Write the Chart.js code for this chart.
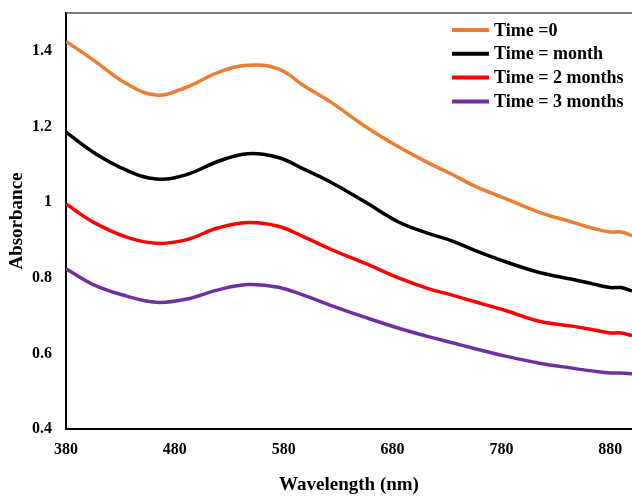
<!DOCTYPE html>
<html>
<head>
<meta charset="utf-8">
<script src="https://cdn.jsdelivr.net/npm/chart.js@4/dist/chart.umd.min.js"></script>
<style>
  html, body { margin: 0; padding: 0; background: #fff; }
  #wrap { width: 632px; height: 496px; }
</style>
</head>
<body>
<div id="wrap"><canvas id="myChart"></canvas></div>
<script>
// wavelength (nm)
const wavelength = [380, 405, 435, 463, 490, 520, 547, 575, 600, 625, 655, 685, 712, 735, 755, 785, 815, 845, 865, 880, 890, 900];

// absorbance for each storage time
const time0 = [1.425, 1.376, 1.314, 1.283, 1.303, 1.343, 1.362, 1.352, 1.305, 1.261, 1.200, 1.147, 1.105, 1.073, 1.043, 1.008, 0.973, 0.947, 0.930, 0.921, 0.921, 0.911];
const time1 = [1.185, 1.132, 1.085, 1.061, 1.072, 1.108, 1.128, 1.118, 1.085, 1.050, 1.000, 0.948, 0.918, 0.897, 0.873, 0.841, 0.814, 0.796, 0.783, 0.774, 0.774, 0.765];
const time2 = [0.995, 0.947, 0.908, 0.891, 0.900, 0.932, 0.946, 0.936, 0.906, 0.873, 0.838, 0.800, 0.772, 0.754, 0.737, 0.712, 0.685, 0.672, 0.662, 0.654, 0.654, 0.647];
const time3 = [0.824, 0.782, 0.752, 0.735, 0.743, 0.768, 0.782, 0.775, 0.752, 0.725, 0.695, 0.667, 0.645, 0.628, 0.613, 0.592, 0.574, 0.561, 0.553, 0.548, 0.548, 0.546];

const seriesNames = ["Time =0", "Time = month", "Time = 2 months", "Time = 3 months"];
const seriesColors = ["#ED7D31", "#000000", "#FF0000", "#7030A0"];

const xTicks = [380, 480, 580, 680, 780, 880];
const yTicks = [0.4, 0.6, 0.8, 1, 1.2, 1.4];

const FONT = "'Liberation Serif', 'Times New Roman', serif";

function toPoints(values) {
    return values.map((v, i) => ({ x: wavelength[i], y: v }));
}

const allSeries = [time0, time1, time2, time3];

// legend drawn inside the plot, top right
const insideLegend = {
    id: "insideLegend",
    afterDraw(chart) {
        const ctx = chart.ctx;
        ctx.save();
        ctx.font = "bold 18px " + FONT;
        ctx.textBaseline = "middle";
        ctx.fillStyle = "#000";
        chart.data.datasets.forEach((ds, i) => {
            const y = 30 + i * 23.8;
            ctx.strokeStyle = ds.borderColor;
            ctx.lineWidth = 4;
            ctx.beginPath();
            ctx.moveTo(452, y);
            ctx.lineTo(489, y);
            ctx.stroke();
            ctx.fillText(ds.label, 494, y + 1);
        });
        ctx.restore();
    }
};

// top frame line
const topLine = {
    id: "topLine",
    afterDraw(chart) {
        const a = chart.chartArea;
        const ctx = chart.ctx;
        ctx.save();
        ctx.strokeStyle = "#555";
        ctx.lineWidth = 1.5;
        ctx.beginPath();
        ctx.moveTo(a.left, a.top);
        ctx.lineTo(632, a.top);
        ctx.stroke();
        ctx.restore();
    }
};

var ctx = document.getElementById("myChart");

var myChart = new Chart(ctx, {
    type: "line",
    data: {
        datasets: allSeries.map((s, i) => ({
            label: seriesNames[i],
            data: toPoints(s),
            borderColor: seriesColors[i],
            backgroundColor: seriesColors[i],
            borderWidth: 3.5,
            pointRadius: 0,
            tension: 0.4,
            fill: false,
        })),
    },
    options: {
        responsive: true,
        maintainAspectRatio: false,
        animation: false,
        layout: { padding: { top: 13, right: 0, left: 0, bottom: 0 } },
        scales: {
            x: {
                type: "linear",
                min: 380,
                max: 900,
                afterBuildTicks: (axis) => { axis.ticks = xTicks.map(v => ({ value: v })); },
                afterFit: (s) => { s.height = 67; s.paddingLeft = 0; s.paddingRight = 0; },
                grid: { display: false, drawTicks: false },
                border: { display: true, color: "#000", width: 2 },
                ticks: { color: "#000", padding: 11, font: { family: FONT, size: 16, weight: "bold" }, maxRotation: 0 },
                title: {
                    display: true,
                    text: "Wavelength (nm)",
                    color: "#000",
                    font: { family: FONT, size: 19, weight: "bold" },
                    padding: { top: 13, bottom: 0 },
                },
            },
            y: {
                min: 0.4,
                max: 1.5,
                afterBuildTicks: (axis) => { axis.ticks = yTicks.map(v => ({ value: v })); },
                afterFit: (s) => { s.width = 66; s.paddingTop = 0; s.paddingBottom = 0; },
                grid: { display: false, drawTicks: false },
                border: { display: true, color: "#000", width: 2 },
                ticks: {
                    color: "#000",
                    padding: 14,
                    font: { family: FONT, size: 16, weight: "bold" },
                    callback: (v) => String(v),
                },
                title: {
                    display: true,
                    text: "Absorbance",
                    color: "#000",
                    font: { family: FONT, size: 19, weight: "bold" },
                    padding: { top: 6, bottom: 0 },
                },
            },
        },
        plugins: {
            legend: { display: false },
            tooltip: { enabled: false },
        },
    },
    plugins: [insideLegend, topLine],
});
</script>
</body>
</html>
